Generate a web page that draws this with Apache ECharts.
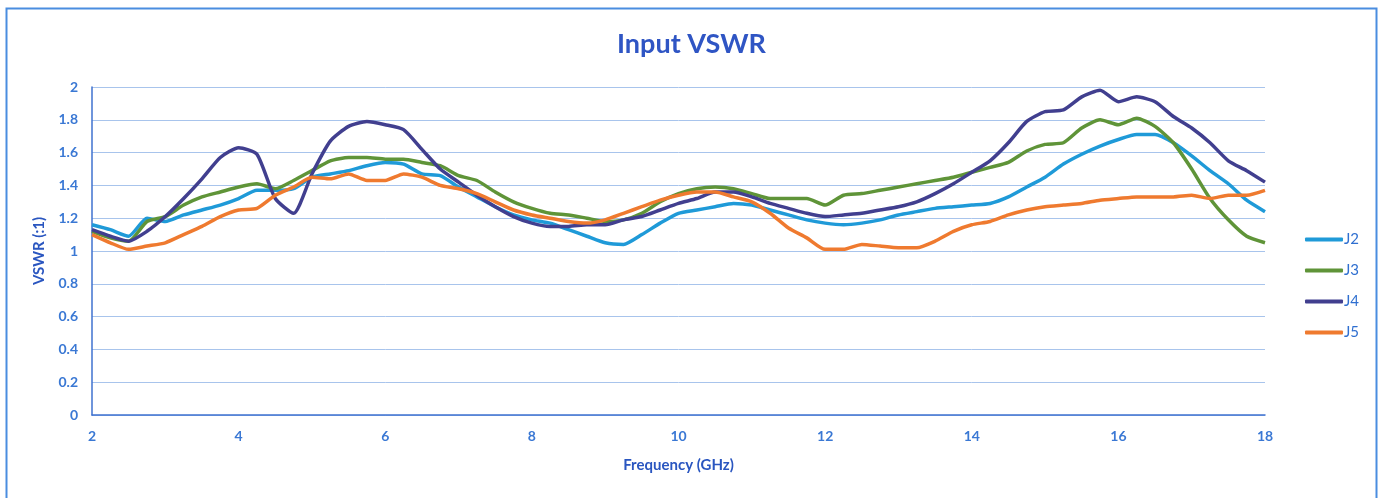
<!DOCTYPE html>
<html>
<head>
<meta charset="utf-8">
<title>Input VSWR</title>
<script src="https://cdn.jsdelivr.net/npm/echarts@6/dist/echarts.min.js"></script>
<style>
  html, body { margin: 0; padding: 0; background: #fff; }
  #chart { width: 1383px; height: 498px; }
</style>
</head>
<body>
<div id="chart"></div>
<script>
// frequency points (GHz), 0.25 GHz step
var freqs = [2, 2.25, 2.5, 2.75, 3, 3.25, 3.5, 3.75, 4, 4.25, 4.5, 4.75, 5, 5.25, 5.5, 5.75,
  6, 6.25, 6.5, 6.75, 7, 7.25, 7.5, 7.75, 8, 8.25, 8.5, 8.75, 9, 9.25, 9.5, 9.75,
  10, 10.25, 10.5, 10.75, 11, 11.25, 11.5, 11.75, 12, 12.25, 12.5, 12.75, 13, 13.25, 13.5, 13.75,
  14, 14.25, 14.5, 14.75, 15, 15.25, 15.5, 15.75, 16, 16.25, 16.5, 16.75, 17, 17.25, 17.5, 17.75, 18]

var j2 = [1.16, 1.13, 1.09, 1.20, 1.18, 1.22, 1.25, 1.28, 1.32, 1.37, 1.37, 1.38, 1.45, 1.47, 1.49, 1.52,
  1.54, 1.53, 1.47, 1.46, 1.39, 1.33, 1.27, 1.22, 1.19, 1.17, 1.13, 1.09, 1.05, 1.04, 1.10, 1.17,
  1.23, 1.25, 1.27, 1.29, 1.28, 1.25, 1.22, 1.19, 1.17, 1.16, 1.17, 1.19, 1.22, 1.24, 1.26, 1.27,
  1.28, 1.29, 1.33, 1.39, 1.45, 1.53, 1.59, 1.64, 1.68, 1.71, 1.71, 1.66, 1.58, 1.49, 1.41, 1.31, 1.24]

var j3 = [1.12, 1.08, 1.06, 1.18, 1.21, 1.28, 1.33, 1.36, 1.39, 1.41, 1.38, 1.43, 1.49, 1.55, 1.57, 1.57,
  1.56, 1.56, 1.54, 1.52, 1.46, 1.43, 1.36, 1.30, 1.26, 1.23, 1.22, 1.20, 1.18, 1.19, 1.23, 1.30,
  1.35, 1.38, 1.39, 1.38, 1.35, 1.32, 1.32, 1.32, 1.28, 1.34, 1.35, 1.37, 1.39, 1.41, 1.43, 1.45,
  1.48, 1.51, 1.54, 1.61, 1.65, 1.66, 1.75, 1.80, 1.77, 1.81, 1.76, 1.66, 1.50, 1.32, 1.19, 1.09, 1.05]

var j4 = [1.13, 1.09, 1.06, 1.12, 1.21, 1.32, 1.44, 1.57, 1.63, 1.59, 1.32, 1.23, 1.47, 1.67, 1.76, 1.79,
  1.77, 1.74, 1.62, 1.50, 1.42, 1.34, 1.27, 1.21, 1.17, 1.15, 1.15, 1.16, 1.16, 1.19, 1.21, 1.25,
  1.29, 1.32, 1.36, 1.36, 1.33, 1.29, 1.26, 1.23, 1.21, 1.22, 1.23, 1.25, 1.27, 1.30, 1.35, 1.41,
  1.48, 1.55, 1.66, 1.79, 1.85, 1.86, 1.94, 1.98, 1.91, 1.94, 1.91, 1.82, 1.75, 1.66, 1.55, 1.49, 1.42]

var j5 = [1.10, 1.05, 1.01, 1.03, 1.05, 1.10, 1.15, 1.21, 1.25, 1.26, 1.34, 1.39, 1.45, 1.44, 1.47, 1.43,
  1.43, 1.47, 1.45, 1.40, 1.38, 1.35, 1.30, 1.25, 1.22, 1.20, 1.18, 1.17, 1.19, 1.23, 1.27, 1.31,
  1.34, 1.36, 1.36, 1.33, 1.30, 1.23, 1.14, 1.08, 1.01, 1.01, 1.04, 1.03, 1.02, 1.02, 1.06, 1.12,
  1.16, 1.18, 1.22, 1.25, 1.27, 1.28, 1.29, 1.31, 1.32, 1.33, 1.33, 1.33, 1.34, 1.32, 1.34, 1.34, 1.37]

var seriesNames = ['J2', 'J3', 'J4', 'J5']
var seriesColors = ['#1f9ad8', '#5f9438', '#413f8f', '#ef7a2f']
var seriesValues = [j2, j3, j4, j5]

var FONT = 'Lato'

function pairs(ys) {
  return freqs.map((f, i) => [f, ys[i]])
}

var chart = echarts.init(document.getElementById('chart'), null, { renderer: 'canvas' })

var option = {
  animation: false,
  backgroundColor: '#fff',
  textStyle: { fontFamily: FONT },
  title: {
    text: 'Input VSWR',
    left: 'center',
    top: 26,
    textStyle: { color: '#2f55c4', fontSize: 27, fontWeight: 'bold', fontFamily: FONT }
  },
  legend: {
    orient: 'vertical',
    left: 1300,
    top: 227,
    itemGap: 16,
    itemWidth: 38,
    itemHeight: 4,
    icon: 'roundRect',
    textStyle: { color: '#2f6fd0', fontSize: 15, fontFamily: FONT, padding: [0, 0, 0, -4] },
    data: seriesNames
  },
  grid: { left: 92, right: 118, top: 87, bottom: 83 },
  xAxis: {
    type: 'value',
    min: 2,
    max: 18,
    interval: 2,
    name: 'Frequency (GHz)',
    nameLocation: 'middle',
    nameGap: 43,
    nameTextStyle: { color: '#2a56c0', fontWeight: 'bold', fontSize: 15, fontFamily: FONT },
    axisLine: { lineStyle: { color: '#3f72cf', width: 1.5 } },
    axisTick: { show: false },
    splitLine: { show: false },
    axisLabel: { color: '#3a78d4', fontSize: 14, fontWeight: 'bold', margin: 14, fontFamily: FONT }
  },
  yAxis: {
    type: 'value',
    min: 0,
    max: 2,
    interval: 0.2,
    name: 'VSWR (:1)',
    nameLocation: 'middle',
    nameRotate: 90,
    nameGap: 45,
    nameTextStyle: { color: '#2a56c0', fontWeight: 'bold', fontSize: 15, fontFamily: FONT },
    axisLine: { show: true, lineStyle: { color: '#3f72cf', width: 1.5 } },
    axisTick: { show: false },
    splitLine: { lineStyle: { color: '#a8c4ec', width: 1 } },
    axisLabel: {
      color: '#3a78d4', fontSize: 14, fontWeight: 'bold', margin: 14, fontFamily: FONT,
      formatter: v => String(Math.round(v * 10) / 10)
    }
  },
  graphic: [{
    type: 'rect',
    left: 4, top: 6,
    shape: { width: 1370, height: 500 },
    style: { fill: 'none', stroke: '#4a8de0', lineWidth: 2 },
    silent: true
  }],
  series: seriesNames.map((name, i) => ({
    name: name,
    type: 'line',
    data: pairs(seriesValues[i]),
    showSymbol: false,
    smooth: 0.2,
    color: seriesColors[i],
    lineStyle: { width: 3.5, color: seriesColors[i] }
  }))
}

chart.setOption(option)
</script>
</body>
</html>
